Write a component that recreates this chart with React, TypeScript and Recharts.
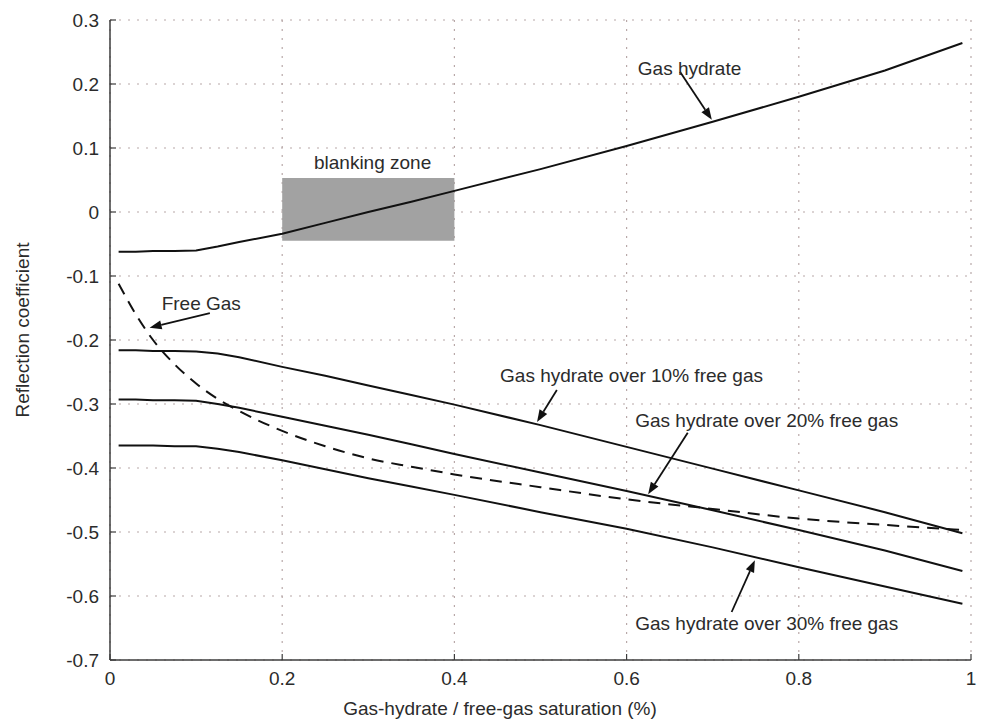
import React from 'react';
import {
  LineChart,
  Line,
  XAxis,
  YAxis,
  CartesianGrid,
  ReferenceArea,
  ReferenceLine,
  ReferenceDot,
} from 'recharts';

// saturation (fraction) sampled along every curve
const saturation = [0.01, 0.03, 0.05, 0.075, 0.1, 0.125, 0.15, 0.2, 0.25, 0.3, 0.35, 0.4, 0.5, 0.6, 0.7, 0.8, 0.9, 0.99];

const gasHydrate = [-0.062, -0.062, -0.061, -0.061, -0.06, -0.054, -0.047, -0.034, -0.017, 0.0, 0.016, 0.033, 0.067, 0.103, 0.141, 0.18, 0.221, 0.264];
const over10 = [-0.216, -0.216, -0.217, -0.217, -0.218, -0.221, -0.227, -0.242, -0.256, -0.271, -0.286, -0.301, -0.333, -0.367, -0.401, -0.435, -0.469, -0.502];
const over20 = [-0.293, -0.293, -0.294, -0.294, -0.295, -0.3, -0.306, -0.32, -0.334, -0.348, -0.363, -0.378, -0.407, -0.436, -0.466, -0.497, -0.529, -0.561];
const over30 = [-0.365, -0.365, -0.365, -0.366, -0.366, -0.37, -0.375, -0.388, -0.402, -0.416, -0.429, -0.442, -0.469, -0.495, -0.524, -0.555, -0.585, -0.612];
const freeGas = [-0.112, -0.16, -0.2, -0.238, -0.268, -0.292, -0.311, -0.342, -0.366, -0.385, -0.398, -0.41, -0.43, -0.449, -0.464, -0.479, -0.489, -0.497];

const xTicks = [0, 0.2, 0.4, 0.6, 0.8, 1];
const yTicks = [0.3, 0.2, 0.1, 0, -0.1, -0.2, -0.3, -0.4, -0.5, -0.6, -0.7];

const blankingZone = { x1: 0.2, x2: 0.4, y1: -0.045, y2: 0.053 };

// annotation texts (x = left edge unless centred, y = middle of the text)
const notes = [
  { text: 'Gas hydrate', x: 0.613, y: 0.225, anchor: 'start' },
  { text: 'blanking zone', x: 0.305, y: 0.078, anchor: 'middle' },
  { text: 'Free Gas', x: 0.06, y: -0.142, anchor: 'start' },
  { text: 'Gas hydrate over 10% free gas', x: 0.453, y: -0.256, anchor: 'start' },
  { text: 'Gas hydrate over 20% free gas', x: 0.61, y: -0.325, anchor: 'start' },
  { text: 'Gas hydrate over 30% free gas', x: 0.61, y: -0.642, anchor: 'start' },
];

const arrows = [
  { from: [0.662, 0.219], to: [0.699, 0.144] },
  { from: [0.116, -0.158], to: [0.046, -0.181] },
  { from: [0.519, -0.278], to: [0.496, -0.328] },
  { from: [0.671, -0.345], to: [0.625, -0.441] },
  { from: [0.722, -0.625], to: [0.749, -0.544] },
];

const chartData = saturation.map((s, i) => ({
  s,
  gasHydrate: gasHydrate[i],
  over10: over10[i],
  over20: over20[i],
  over30: over30[i],
  freeGas: freeGas[i],
}));

const FONT = '"Liberation Sans", Arial, sans-serif';
const TEXT = '#2b2b2b';
const FRAME = '#3c3c3c';
const LINE = '#111111';

function BottomTick({ x, y, payload }: any) {
  return (
    <g>
      <line x1={x} y1={y} x2={x} y2={y - 6} stroke={FRAME} strokeWidth={1.2} />
      <text x={x} y={y + 25} textAnchor="middle" fontSize={19} fontFamily={FONT} fill={TEXT}>
        {String(payload.value)}
      </text>
    </g>
  );
}

function TopTick({ x, y }: any) {
  return <line x1={x} y1={y} x2={x} y2={y + 6} stroke={FRAME} strokeWidth={1.2} />;
}

function LeftTick({ x, y, payload }: any) {
  return (
    <g>
      <line x1={x} y1={y} x2={x + 6} y2={y} stroke={FRAME} strokeWidth={1.2} />
      <text x={x - 11} y={y + 7} textAnchor="end" fontSize={19} fontFamily={FONT} fill={TEXT}>
        {String(payload.value)}
      </text>
    </g>
  );
}

function RightTick({ x, y }: any) {
  return <line x1={x} y1={y} x2={x - 6} y2={y} stroke={FRAME} strokeWidth={1.2} />;
}

function Arrow({ x1, y1, x2, y2 }: any) {
  const a = Math.atan2(y2 - y1, x2 - x1);
  const len = 12;
  const w = 4.5;
  const bx = x2 - len * Math.cos(a);
  const by = y2 - len * Math.sin(a);
  const pts = `${x2},${y2} ${bx + w * Math.sin(a)},${by - w * Math.cos(a)} ${bx - w * Math.sin(a)},${by + w * Math.cos(a)}`;
  return (
    <g>
      <line x1={x1} y1={y1} x2={bx} y2={by} stroke={LINE} strokeWidth={1.8} />
      <polygon points={pts} fill={LINE} />
    </g>
  );
}

function xTitle({ viewBox }: any) {
  return (
    <text x={viewBox.x + 390} y={viewBox.y + 48} dy="0.35em" textAnchor="middle" fontSize={19} fontFamily={FONT} fill={TEXT}>
      Gas-hydrate / free-gas saturation (%)
    </text>
  );
}

function yTitle({ viewBox }: any) {
  return (
    <text
      transform={`translate(${viewBox.x - 28}, ${viewBox.y + viewBox.height / 2 - 10}) rotate(-90)`}
      dy="0.35em"
      textAnchor="middle"
      fontSize={19}
      fontFamily={FONT}
      fill={TEXT}
    >
      Reflection coefficient
    </text>
  );
}

export default function App() {
  return (
    <div style={{ position: 'absolute', left: 0, top: 0, width: 984, height: 721, background: '#fff' }}>
      <LineChart
        width={984}
        height={721}
        data={chartData}
        margin={{ top: 20, right: 13, bottom: 31, left: 50 }}
      >
        <CartesianGrid stroke="#b8a8a8" strokeDasharray="2 7" strokeWidth={1.2} />
        <XAxis
          dataKey="s"
          type="number"
          domain={[0, 1]}
          ticks={xTicks}
          height={30}
          tickSize={0}
          tickMargin={0}
          tickLine={false}
          tick={<BottomTick />}
          axisLine={{ stroke: FRAME, strokeWidth: 1.5 }}
          label={xTitle}
        />
        <XAxis
          xAxisId="top"
          orientation="top"
          type="number"
          domain={[0, 1]}
          ticks={xTicks}
          height={0}
          tickSize={0}
          tickMargin={0}
          tickLine={false}
          tick={<TopTick />}
          axisLine={{ stroke: FRAME, strokeWidth: 1.5 }}
        />
        <YAxis
          type="number"
          domain={[-0.7, 0.3]}
          ticks={yTicks}
          width={60}
          tickSize={0}
          tickMargin={0}
          tickLine={false}
          tick={<LeftTick />}
          axisLine={{ stroke: FRAME, strokeWidth: 1.5 }}
          label={yTitle}
        />
        <YAxis
          yAxisId="right"
          orientation="right"
          type="number"
          domain={[-0.7, 0.3]}
          ticks={yTicks}
          width={0}
          tickSize={0}
          tickMargin={0}
          tickLine={false}
          tick={<RightTick />}
          axisLine={{ stroke: FRAME, strokeWidth: 1.5 }}
        />

        <ReferenceArea
          x1={blankingZone.x1}
          x2={blankingZone.x2}
          y1={blankingZone.y1}
          y2={blankingZone.y2}
          fill="#a2a2a2"
          fillOpacity={1}
          stroke="none"
        />

        <Line type="linear" dataKey="gasHydrate" stroke={LINE} strokeWidth={2} dot={false} isAnimationActive={false} />
        <Line type="linear" dataKey="over10" stroke={LINE} strokeWidth={2} dot={false} isAnimationActive={false} />
        <Line type="linear" dataKey="over20" stroke={LINE} strokeWidth={2} dot={false} isAnimationActive={false} />
        <Line type="linear" dataKey="over30" stroke={LINE} strokeWidth={2} dot={false} isAnimationActive={false} />
        <Line
          type="monotone"
          dataKey="freeGas"
          stroke={LINE}
          strokeWidth={2}
          strokeDasharray="12 8"
          dot={false}
          isAnimationActive={false}
        />

        {arrows.map((a, i) => (
          <ReferenceLine
            key={`arrow-${i}`}
            segment={[
              { x: a.from[0], y: a.from[1] },
              { x: a.to[0], y: a.to[1] },
            ]}
            shape={(p: any) => <Arrow {...p} />}
          />
        ))}

        {notes.map((n) => (
          <ReferenceDot
            key={n.text}
            x={n.x}
            y={n.y}
            r={0}
            shape={(p: any) => (
              <text
                x={p.cx}
                y={p.cy}
                dy="0.35em"
                textAnchor={n.anchor}
                fontSize={19}
                fontFamily={FONT}
                fill={TEXT}
              >
                {n.text}
              </text>
            )}
          />
        ))}
      </LineChart>
    </div>
  );
}
